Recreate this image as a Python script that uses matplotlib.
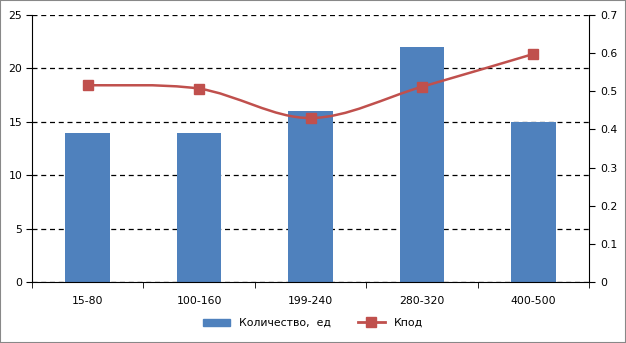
import numpy as np
import matplotlib.pyplot as plt
from matplotlib.path import Path
from matplotlib.patches import PathPatch, Rectangle
from matplotlib.lines import Line2D

categories = ['15-80', '100-160', '199-240', '280-320', '400-500']
kolichestvo = [14, 14, 16, 22, 15]
kpod = [0.516, 0.507, 0.430, 0.512, 0.598]

bar_color = '#4F81BD'
line_color = '#C0504D'

plt.rcParams['font.family'] = 'DejaVu Sans'
plt.rcParams['font.size'] = 7.8

fig = plt.figure(figsize=(6.26, 3.43), dpi=100)
fig.patches.append(Rectangle((0, 0), 1, 1, transform=fig.transFigure,
                             fill=False, edgecolor='#888888', lw=1.5))
ax = fig.add_axes([0.0511, 0.178, 0.890, 0.778])
x = np.arange(len(categories))

ax.bar(x, kolichestvo, width=0.4, color=bar_color, zorder=2)
ax.set_xlim(-0.5, len(categories) - 0.5)
ax.set_ylim(0, 25)
ax.set_yticks(range(0, 26, 5))
ax.yaxis.grid(True, linestyle=(0, (4, 3)), color='black', lw=0.9, zorder=1)
ax.set_axisbelow(True)
ax.set_xticks(x)
ax.set_xticklabels(categories)
ax.set_xticks(np.arange(-0.5, len(categories)), minor=True)
ax.tick_params(axis='x', which='major', length=0, pad=10)
ax.tick_params(axis='x', which='minor', length=4, direction='out')
ax.tick_params(axis='y', length=4, direction='out', pad=3)
for s in ['top', 'right']:
    ax.spines[s].set_visible(False)

ax2 = ax.twinx()
ax2.set_ylim(0, 0.7)
ax2.set_yticks(np.arange(0, 0.71, 0.1))
ax2.set_yticklabels(['0', '0.1', '0.2', '0.3', '0.4', '0.5', '0.6', '0.7'])
ax2.tick_params(axis='y', length=4, direction='out', pad=4)
for s in ['top', 'left', 'bottom']:
    ax2.spines[s].set_visible(False)

# smoothed line (Catmull-Rom rendered as bezier path)
pts = np.column_stack([x, kpod])
verts = [pts[0]]
codes = [Path.MOVETO]
n = len(pts)
for i in range(n - 1):
    p0 = pts[max(i - 1, 0)]
    p1 = pts[i]
    p2 = pts[i + 1]
    p3 = pts[min(i + 2, n - 1)]
    c1 = p1 + (p2 - p0) / 6
    c2 = p2 - (p3 - p1) / 6
    verts += [c1, c2, p2]
    codes += [Path.CURVE4] * 3
ax2.add_patch(PathPatch(Path(verts, codes), fill=False, edgecolor=line_color, lw=1.8, zorder=3))
ax2.plot(x, kpod, linestyle='none', marker='s', ms=7, color=line_color, zorder=4)

handles = [Rectangle((0, 0), 1, 1, color=bar_color),
           Line2D([], [], color=line_color, lw=2, marker='s', ms=7)]
fig.legend(handles, ['Количество,  ед', 'Кпод'], loc='lower center',
           bbox_to_anchor=(0.5, 0.015), ncol=2, frameon=False, fontsize=7.8,
           handlelength=2.5, columnspacing=2.5)

fig.savefig('out.png', dpi=100)
